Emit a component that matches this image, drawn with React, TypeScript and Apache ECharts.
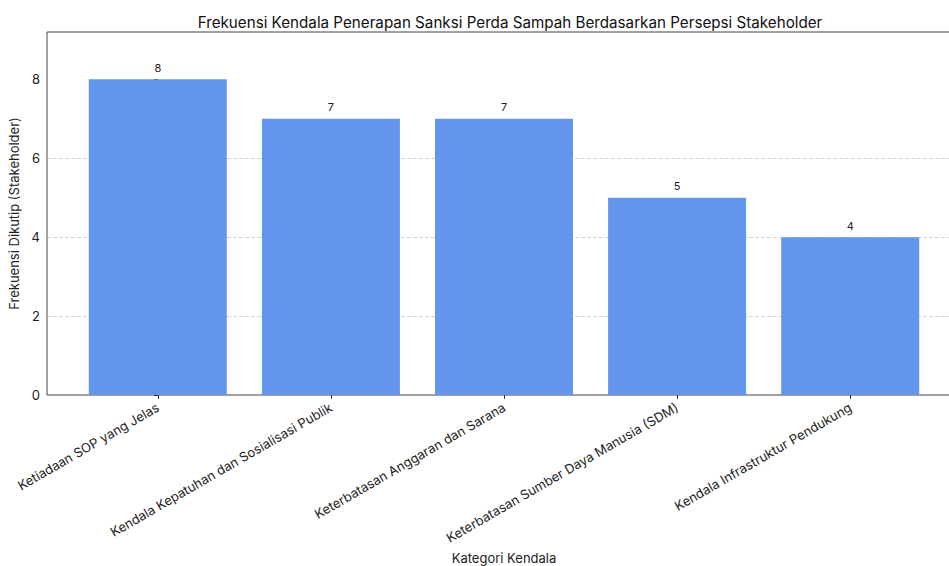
import React, { useEffect, useRef } from 'react';
import * as echarts from 'echarts';

const categories = [
  'Ketiadaan SOP yang Jelas',
  'Kendala Kepatuhan dan Sosialisasi Publik',
  'Keterbatasan Anggaran dan Sarana',
  'Keterbatasan Sumber Daya Manusia (SDM)',
  'Kendala Infrastruktur Pendukung',
];
const values = [8, 7, 7, 5, 4];
const yTicks = [0, 2, 4, 6, 8];
const xPositions = [0, 1, 2, 3, 4];

const FONT = 'Inter, Roboto, sans-serif';

export default function App() {
  const ref = useRef<HTMLDivElement>(null);
  useEffect(() => {
    const chart = echarts.init(ref.current!, null, { renderer: 'svg' });
    chart.setOption({
      animation: false,
      backgroundColor: '#ffffff',
      textStyle: { fontFamily: FONT },
      title: {
        text: 'Frekuensi Kendala Penerapan Sanksi Perda Sampah Berdasarkan Persepsi Stakeholder',
        left: 505,
        textAlign: 'center',
        top: 10,
        textStyle: { fontFamily: FONT, fontSize: 15.2, fontWeight: 'normal', color: '#111' },
      },
      grid: {
        left: 47,
        top: 32,
        width: 914,
        height: 363,
        show: true,
        borderColor: '#444',
        borderWidth: 1,
        backgroundColor: 'transparent',
        outerBoundsMode: 'none',
        containLabel: false,
      },
      xAxis: {
        type: 'value',
        min: -0.64,
        max: 4.64,
        splitLine: { show: false },
        axisLine: { show: false },
        axisTick: {
          show: true,
          customValues: xPositions,
          length: 4,
          lineStyle: { color: '#333' },
        },
        axisLabel: {
          customValues: xPositions,
          formatter: (v: number) => categories[Math.round(v)] ?? '',
          rotate: 30,
          margin: 11,
          fontSize: 13,
          fontFamily: FONT,
          color: '#222',
        },
        name: 'Kategori Kendala',
        nameLocation: 'middle',
        nameGap: 156,
        nameTextStyle: { fontSize: 13, fontFamily: FONT, color: '#222' },
      },
      yAxis: {
        type: 'value',
        min: 0,
        max: 9.2,
        interval: 2,
        axisLine: { show: false },
        axisTick: {
          show: true,
          customValues: yTicks,
          length: 4,
          lineStyle: { color: '#333' },
        },
        axisLabel: {
          customValues: yTicks,
          margin: 7,
          fontSize: 13,
          fontFamily: FONT,
          color: '#222',
        },
        splitLine: {
          show: true,
          showMinLine: false,
          showMaxLine: false,
          lineStyle: { color: '#c8c8c8', type: [4, 2], width: 0.8 },
        },
        name: 'Frekuensi Dikutip (Stakeholder)',
        nameLocation: 'middle',
        nameGap: 25,
        nameTextStyle: { fontSize: 13, fontFamily: FONT, color: '#222' },
      },
      series: [
        {
          type: 'bar',
          data: values.map((v, i) => [xPositions[i], v]),
          barWidth: 138,
          itemStyle: { color: '#6495ED' },
          label: {
            show: true,
            position: 'top',
            distance: 6,
            fontSize: 11,
            fontFamily: FONT,
            color: '#222',
            formatter: (p: any) => String(p.value[1]),
          },
        },
      ],
    });
    return () => chart.dispose();
  }, []);
  return (
    <div
      ref={ref}
      style={{ position: 'fixed', left: 0, top: 0, width: 949, height: 566 }}
    />
  );
}
